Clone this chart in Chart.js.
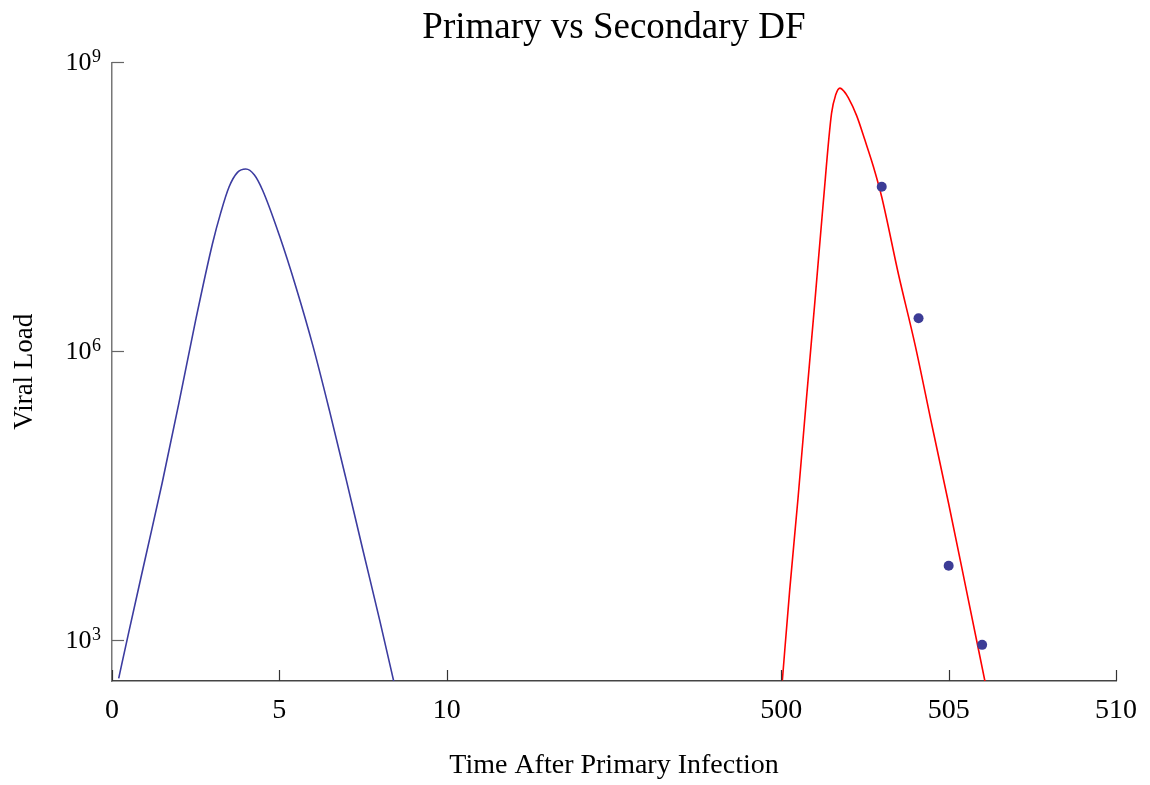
<!DOCTYPE html>
<html>
<head>
<meta charset="utf-8">
<script src="https://cdn.jsdelivr.net/npm/chart.js@4/dist/chart.umd.min.js"></script>
<style>
  body { margin: 0; background: #fff; }
</style>
</head>
<body>
<canvas id="viral" width="1150" height="785"></canvas>
<script>
// primary infection (days 0-10)
const primaryDays = [0.2, 0.5, 1, 1.5, 2, 2.5, 3, 3.25, 3.5, 3.75, 4, 4.25, 4.5, 5, 5.5, 6, 6.5, 7, 7.5, 8, 8.5];
const primaryLoad = [4.0e2, 1.2e3, 7.2e3, 4.3e4, 2.9e5, 2.1e6, 1.3e7, 2.75e7, 5.1e7, 7.2e7, 7.8e7, 6.8e7, 4.7e7, 1.6e7, 4.6e6, 1.15e6, 2.4e5, 4.6e4, 8.5e3, 1.6e3, 2.8e2];

// secondary infection (days 500-510)
const secondaryDays = [500.03, 500.25, 500.5, 500.75, 501, 501.25, 501.5, 501.625, 501.75, 501.875, 502, 502.25, 502.5, 502.75, 503, 503.5, 504, 504.5, 505, 505.5, 506.1];
const secondaryLoad = [3.8e2, 3.3e3, 3.0e4, 3.2e5, 3.2e6, 3.4e7, 2.95e8, 4.6e8, 5.4e8, 5.0e8, 4.3e8, 2.8e8, 1.55e8, 8.3e7, 4.0e7, 6.3e6, 1.15e6, 1.7e5, 2.6e4, 3.7e3, 3.5e2];

// measured patient data
const patientDays = [503.0, 504.1, 505.0, 506.0];
const patientLoad = [5.1e7, 2.2e6, 5.9e3, 8.9e2];

const xTickDays = [0, 5, 10, 500, 505, 510];
const xTickLabels = ['0', '5', '10', '500', '505', '510'];
const yTickValues = [1e3, 1e6, 1e9];
const yTickExponents = ['3', '6', '9'];

// broken time axis: 10..500 is squeezed into the same width as 10 days
function toAxis(t) {
    return t >= 500 ? t - 480 : t;
}

function points(days, load) {
    return days.map((d, i) => ({ x: toAxis(d), y: load[i] }));
}

const serif = "'Liberation Serif', 'DejaVu Serif', serif";

// little tick marks pointing into the plot, plus 10^n labels with raised exponent
const innerTicks = {
    id: 'innerTicks',
    afterDatasetsDraw(chart) {
        const { ctx, chartArea, scales: { x, y } } = chart;
        ctx.save();
        ctx.lineWidth = 1.2;
        ctx.strokeStyle = '#666';
        y.ticks.forEach(t => {
            const py = Math.round(y.getPixelForValue(t.value)) + 0.5;
            ctx.beginPath();
            ctx.moveTo(chartArea.left, py);
            ctx.lineTo(chartArea.left + 12, py);
            ctx.stroke();
        });
        ctx.strokeStyle = '#333';
        x.ticks.forEach(t => {
            const px = Math.round(x.getPixelForValue(t.value)) + 0.5;
            ctx.beginPath();
            ctx.moveTo(px, chartArea.bottom);
            ctx.lineTo(px, chartArea.bottom - 11);
            ctx.stroke();
        });

        ctx.fillStyle = '#000';
        ctx.textBaseline = 'alphabetic';
        ctx.textAlign = 'right';
        const right = chartArea.left - 11;
        y.ticks.forEach((t, i) => {
            const py = y.getPixelForValue(t.value);
            ctx.font = '18px ' + serif;
            const expW = ctx.measureText(yTickExponents[i]).width;
            ctx.fillText(yTickExponents[i], right, py);
            ctx.font = '26px ' + serif;
            ctx.fillText('10', right - expW - 0.5, py + 8);
        });
        ctx.restore();
    }
};

const data = {
    datasets: [{
        type: 'scatter',
        data: points(patientDays, patientLoad),
        backgroundColor: 'rgb(60,60,150)',
        borderWidth: 0,
        pointRadius: 5
    }, {
        type: 'line',
        data: points(primaryDays, primaryLoad),
        borderColor: 'rgb(60,60,160)',
        borderWidth: 1.6,
        pointRadius: 0,
        cubicInterpolationMode: 'monotone'
    }, {
        type: 'line',
        data: points(secondaryDays, secondaryLoad),
        borderColor: 'rgb(255,0,0)',
        borderWidth: 1.6,
        pointRadius: 0,
        cubicInterpolationMode: 'monotone'
    }]
};

const config = {
    type: 'scatter',
    data: data,
    plugins: [innerTicks],
    options: {
        responsive: false,
        animation: false,
        layout: { padding: { left: 0, right: 34, top: 0, bottom: 0 } },
        plugins: {
            legend: { display: false },
            tooltip: { enabled: false },
            title: {
                display: true,
                text: 'Primary vs Secondary DF',
                fullSize: false,
                color: '#000',
                font: { family: serif, size: 37, weight: 'normal' },
                padding: { top: 6, bottom: 12 }
            }
        },
        scales: {
            x: {
                type: 'linear',
                min: 0,
                max: 30,
                afterBuildTicks: s => { s.ticks = xTickDays.map(d => ({ value: toAxis(d) })); },
                afterFit: s => { s.height = 104; },
                ticks: {
                    callback: (v, i) => xTickLabels[i],
                    color: '#000',
                    font: { family: serif, size: 28 },
                    padding: 13,
                    maxRotation: 0,
                    autoSkip: false
                },
                grid: { drawOnChartArea: false, drawTicks: false },
                border: { color: '#444', width: 1.5 },
                title: {
                    display: true,
                    text: 'Time After Primary Infection',
                    color: '#000',
                    font: { family: serif, size: 28 },
                    padding: { top: 0, bottom: 3 }
                }
            },
            y: {
                type: 'logarithmic',
                min: 375,
                max: 1e9,
                afterBuildTicks: s => { s.ticks = yTickValues.map(v => ({ value: v })); },
                afterFit: s => { s.width = 112; },
                ticks: { display: false },
                grid: { drawOnChartArea: false, drawTicks: false },
                border: { color: '#777', width: 1.5 },
                title: {
                    display: true,
                    text: 'Viral Load',
                    color: '#000',
                    font: { family: serif, size: 27 },
                    padding: { top: 9, bottom: 0 }
                }
            }
        }
    }
};

new Chart(document.getElementById('viral'), config);
</script>
</body>
</html>
